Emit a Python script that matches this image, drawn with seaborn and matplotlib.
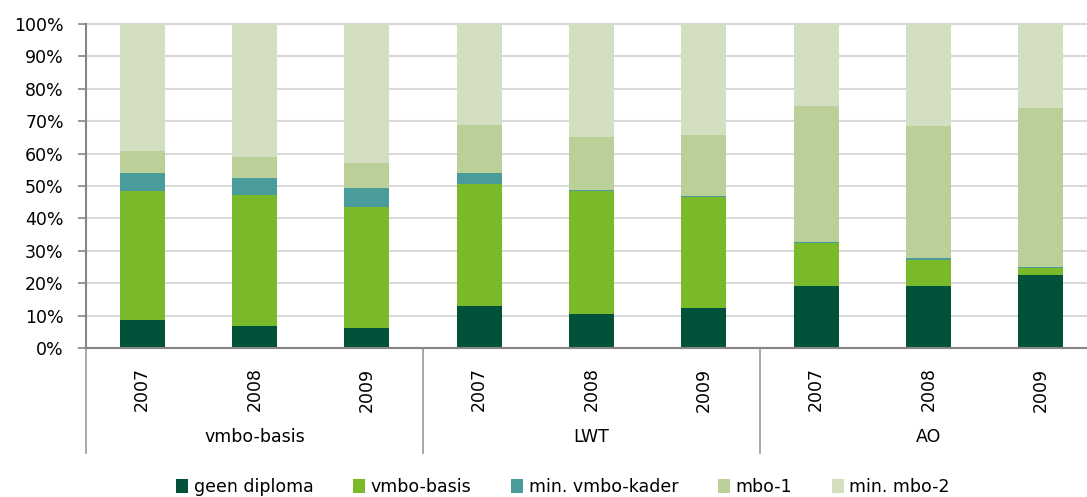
import numpy as np
import pandas as pd
import seaborn as sns
import matplotlib.pyplot as plt
from matplotlib.patches import Patch

groups = ["vmbo-basis", "LWT", "AO"]
years = ["2007", "2008", "2009"]
series = ["geen diploma", "vmbo-basis", "min. vmbo-kader", "mbo-1", "min. mbo-2"]
colors = ["#02523B", "#7AB929", "#4A9C9A", "#BBCF98", "#D3DFC0"]

# shares per bar (vmbo-basis 2007..2009, LWT 2007..2009, AO 2007..2009), in %
geen_diploma = [8.5, 6.7, 6.2, 13.0, 10.4, 12.4, 19.1, 19.0, 22.5]
vmbo_basis = [40.0, 40.5, 37.2, 37.5, 38.1, 34.2, 13.3, 8.1, 2.1]
min_vmbo_kader = [5.4, 5.2, 5.9, 3.4, 0.3, 0.3, 0.4, 0.8, 0.4]
mbo_1 = [6.8, 6.7, 7.8, 14.9, 16.3, 18.8, 41.9, 40.6, 49.1]
min_mbo_2 = [39.3, 40.9, 42.9, 31.2, 34.9, 34.3, 25.3, 31.5, 25.9]

keys = [f"{g} {y}" for g in groups for y in years]
df = pd.DataFrame({"bar": keys,
                   "geen diploma": geen_diploma,
                   "vmbo-basis": vmbo_basis,
                   "min. vmbo-kader": min_vmbo_kader,
                   "mbo-1": mbo_1,
                   "min. mbo-2": min_mbo_2})
cum = df[series].cumsum(axis=1)
cum = cum.div(cum["min. mbo-2"], axis=0) * 100

plt.rcParams["font.family"] = ["DejaVu Sans"]
fig = plt.figure(figsize=(10.87, 4.97), dpi=100)
ax = fig.add_axes([86 / 1087, 1 - 348 / 497, 1011 / 1087, 324 / 497])

# draw stacked bars top-down so lower layers overlay cumulative heights
for s, c in reversed(list(zip(series, colors))):
    sns.barplot(x=df["bar"], y=cum[s], color=c, width=0.4, ax=ax,
                order=keys, edgecolor="none", saturation=1, zorder=2)

ax.set_xlim(-0.5, 8.5)
ax.set_ylim(0, 100)
ax.set_yticks(np.arange(0, 101, 10))
ax.set_yticklabels([f"{v}%" for v in range(0, 101, 10)], fontsize=12.5, color="#000000")
ax.yaxis.grid(True, color="#D9D9D9", linewidth=1.5, zorder=0)
for gl in ax.get_ygridlines():
    gl.set_clip_on(False)
ax.set_axisbelow(True)
ax.tick_params(axis="y", length=6, width=1.2, color="#868686", pad=10)
ax.tick_params(axis="x", length=0)
ax.set_xticks(range(9))
ax.set_xticklabels(years * 3, rotation=90, fontsize=12.5)
ax.tick_params(axis="x", pad=14)
ax.set_xlabel("")
ax.set_ylabel("")
for side in ["top", "right"]:
    ax.spines[side].set_visible(False)
for side in ["left", "bottom"]:
    ax.spines[side].set_color("#868686")
    ax.spines[side].set_linewidth(1.5)

# group separators and labels below the axis
trans = ax.get_xaxis_transform()
for b in [-0.5, 2.5, 5.5, 8.5]:
    ax.plot([b, b], [0, -105 / 324], transform=trans, color="#A0A0A0",
            linewidth=1.3, clip_on=False)
for i, g in enumerate(groups):
    ax.text(3 * i + 1, -89 / 324, g, transform=trans, ha="center", va="center",
            fontsize=12.5)

handles = [Patch(facecolor=c, edgecolor="none") for c in colors]
fig.legend(handles, series, loc="center", bbox_to_anchor=(563 / 1087, 1 - 487 / 497),
           ncol=5, frameon=False, fontsize=12.5, handlelength=0.7, handleheight=0.9,
           handletextpad=0.3, columnspacing=2.3)

fig.savefig("out.png", dpi=100)
